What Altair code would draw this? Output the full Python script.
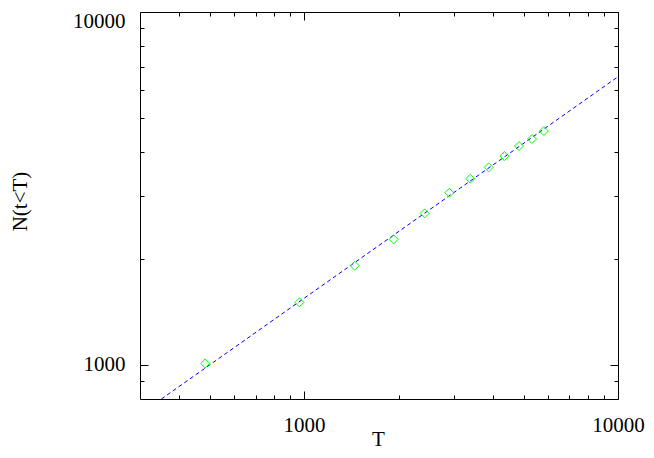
import altair as alt
import pandas as pd

# Data points (T, N(t<T))
T_vals = [484, 966, 1449, 1929, 2421, 2902, 3385, 3872, 4345, 4838, 5321, 5807]
N_vals = [1009, 1503, 1909, 2267, 2687, 3074, 3368, 3628, 3906, 4169, 4365, 4599]

# Fitted power-law line endpoints
fit_T = [351, 10000]
fit_N = [800, 6555]

x_major = [1000, 10000]
y_major = [1000, 10000]
x_ticks = [400, 500, 600, 700, 800, 900, 1000,
           2000, 3000, 4000, 5000, 6000, 7000, 8000, 9000, 10000]
y_ticks = [900, 1000, 2000, 3000, 4000, 5000, 6000, 7000, 8000, 9000, 10000]

x_domain = [300, 10000]
y_domain = [800, 10000]

W, H = 478, 387
FONT = "Liberation Serif"
FS = 21

pts = pd.DataFrame({"T": T_vals, "N": N_vals})
fit = pd.DataFrame({"T": fit_T, "N": fit_N})

xs = alt.Scale(type="log", domain=x_domain, nice=False)
ys = alt.Scale(type="log", domain=y_domain, nice=False)

tick_size = {"condition": {"test": "datum.value == 1000 || datum.value == 10000", "value": 8}, "value": 4}
top_label_offset = {"condition": {"test": "datum.value == 10000", "value": 9}, "value": 0}

def tick_axis(orient, values, offset):
    return alt.Axis(orient=orient, values=values, offset=offset, labels=False,
                    domain=False, grid=False, title=None, tickSize=tick_size,
                    tickColor="black", tickWidth=1)

line = alt.Chart(fit).mark_line(color="#0000ff", strokeDash=[4, 3], strokeWidth=1).encode(
    x=alt.X("T:Q", scale=xs, axis=alt.Axis(
        orient="bottom", values=x_major, ticks=False, tickSize=0, domain=False, grid=False,
        labelFont=FONT, labelFontSize=FS, labelColor="black", labelPadding=15,
        format="d", labelFlush=False,
        title="T", titleFont=FONT, titleFontSize=FS, titleFontWeight="normal", titleColor="black",
        titleX=W / 2 - 1, titleY=46, titleBaseline="alphabetic", titleAlign="center")),
    y=alt.Y("N:Q", scale=ys, axis=alt.Axis(
        orient="left", values=y_major, ticks=False, tickSize=0, domain=False, grid=False,
        labelFont=FONT, labelFontSize=FS, labelColor="black", labelPadding=15,
        labelOffset=top_label_offset,
        format="d", labelFlush=False,
        title="N(t<T)", titleFont=FONT, titleFontSize=FS, titleFontWeight="normal", titleColor="black",
        titleX=-114, titleY=189, titleAngle=270, titleBaseline="alphabetic", titleAlign="center")),
)

points = alt.Chart(pts).mark_point(shape="diamond", filled=False, color="#00ff00",
                                   strokeWidth=1, size=81, opacity=1).encode(
    x=alt.X("T:Q", scale=xs, axis=tick_axis("top", x_ticks, -H)),
    y=alt.Y("N:Q", scale=ys, axis=tick_axis("right", y_ticks, -W)),
)

points2 = alt.Chart(pts).mark_point(opacity=0).encode(
    x=alt.X("T:Q", scale=xs, axis=tick_axis("bottom", x_ticks, -H)),
    y=alt.Y("N:Q", scale=ys, axis=tick_axis("left", y_ticks, -W)),
)

chart = alt.layer(line, points, points2).resolve_axis(
    x="independent", y="independent"
).properties(
    width=W, height=H,
    padding={"left": 132, "top": 4, "right": 28, "bottom": 51},
    autosize=alt.AutoSizeParams(type="none"),
    background="white",
).configure_view(stroke="black", strokeWidth=1)

chart.save("out.html", embed_options={"renderer": "svg", "actions": False})
